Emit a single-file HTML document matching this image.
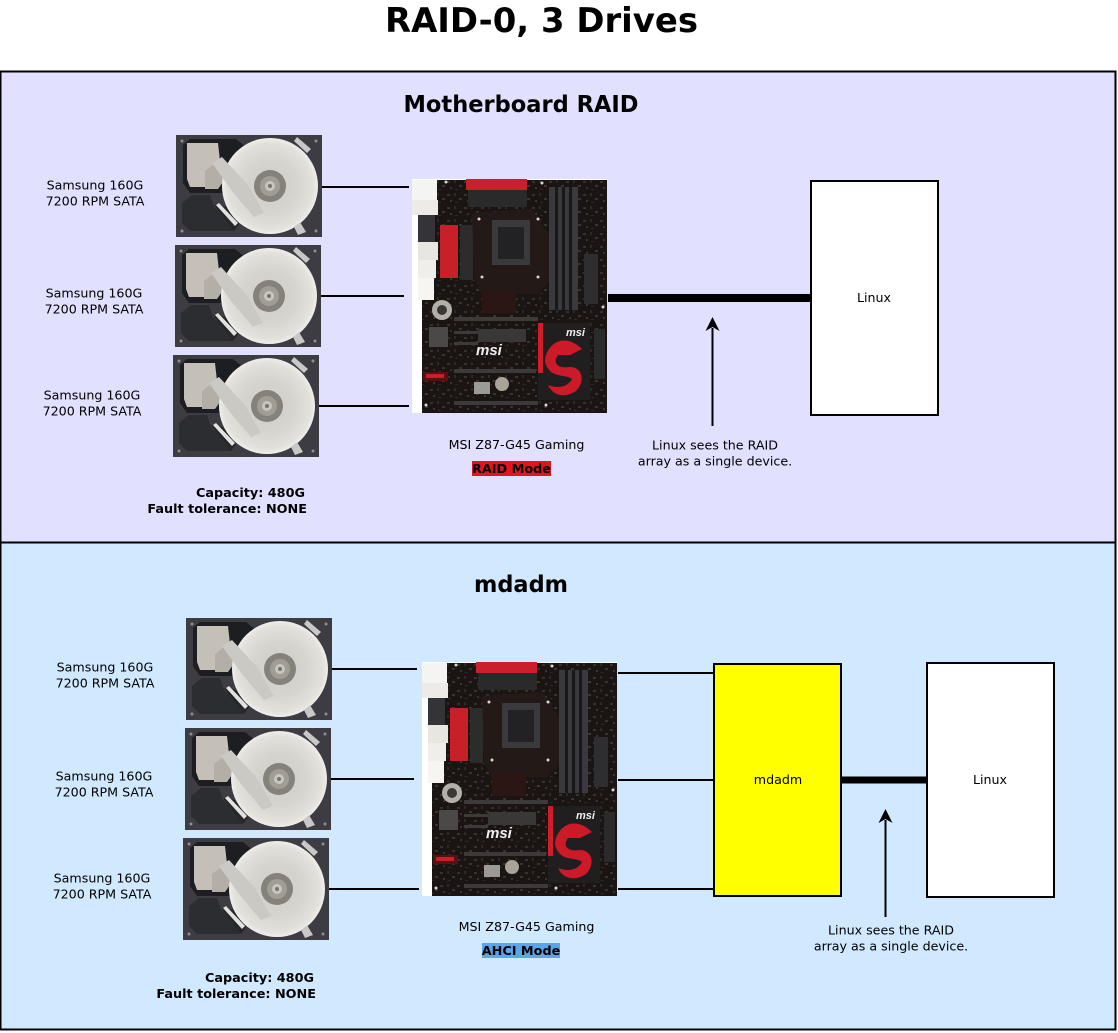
<!DOCTYPE html>
<html><head><meta charset="utf-8"><style>
html,body{margin:0;padding:0;background:#fff}
svg{display:block}
text{font-family:"DejaVu Sans",sans-serif;fill:#000}
.l{font-size:12.65px}
.b{font-size:12.8px;font-weight:bold}
.h{font-size:23px;font-weight:bold}
</style></head><body>
<svg width="1118" height="1033" viewBox="0 0 1118 1033" xmlns="http://www.w3.org/2000/svg">
<defs>
<radialGradient id="pl" cx="0.5" cy="0.5" r="0.5"><stop offset="0" stop-color="#cfcdc7"/><stop offset="0.55" stop-color="#d6d4ce"/><stop offset="0.9" stop-color="#e2e1dc"/><stop offset="1" stop-color="#efeeeb"/></radialGradient>
<pattern id="sp" width="17" height="13" patternUnits="userSpaceOnUse">
<rect x="1" y="2" width="3" height="2" fill="#38322f"/><rect x="8" y="1" width="2" height="3" fill="#2e2927"/><rect x="13" y="6" width="3" height="2" fill="#3a3431"/><rect x="4" y="8" width="2" height="2" fill="#3a3431"/><rect x="9" y="10" width="3" height="1" fill="#2e2927"/>
</pattern>
<g id="hdd">
<rect width="146" height="102" fill="#3c3c42"/>
<path d="M7 10L14 4H60L82 22 50 58H14L7 48Z" fill="#1d1e21"/>
<path d="M11 8H42L44 26 36 32 30 52H14L11 44Z" fill="#c4c0b7"/>
<path d="M29 36L42 26 52 40 42 54H29Z" fill="#b3afa6"/>
<path d="M6 68L16 60H34L38 72 56 88 58 96H14L6 88Z" fill="#2c2d31"/>
<path d="M38 70L50 72 64 88 58 96Z" fill="#26272b"/>
<circle cx="94" cy="51" r="48" fill="url(#pl)"/>
<path d="M36 28L46 22 72 50 88 78 78 82 56 56Z" fill="#cbc9c3"/>
<path d="M40 70L43 68 62 88 59 91Z" fill="#e2e2de"/>
<circle cx="94" cy="51" r="16" fill="#85827c"/>
<circle cx="94" cy="51" r="10" fill="#a09d95"/>
<circle cx="94" cy="51" r="5" fill="#c8c6c0"/>
<circle cx="94" cy="51" r="2" fill="#77746e"/>
<path d="M121 2L135 14 131 18 118 6Z" fill="#c8c8c6"/>
<path d="M124 87L130 97 122 100 118 92Z" fill="#c8c8c6"/>
<g fill="#8f8f93"><circle cx="6" cy="6" r="1.500"/><circle cx="140" cy="6" r="1.500"/><circle cx="6" cy="96" r="1.500"/><circle cx="140" cy="96" r="1.500"/></g>
</g>
<g id="mb">
<rect width="195" height="234" fill="#fff"/>
<rect x="10" y="1" width="185" height="233" fill="#1a1413"/>
<rect x="10" y="1" width="185" height="233" fill="url(#sp)"/>
<rect x="0" y="1" width="25" height="20" fill="#f4f4f2"/>
<rect x="0" y="21" width="26" height="15" fill="#ecebe7"/>
<rect x="0" y="36" width="6" height="88" fill="#fff"/>
<rect x="6" y="36" width="17" height="27" fill="#333338"/>
<rect x="6" y="63" width="20" height="18" fill="#e8e6e0"/>
<rect x="6" y="81" width="18" height="18" fill="#efeeea"/>
<rect x="6" y="99" width="16" height="22" fill="#f6f5f2"/>
<rect x="54" y="0" width="61" height="11" fill="#c9202c"/>
<rect x="56" y="11" width="59" height="17" fill="#2b2a2b"/>
<rect x="28" y="46" width="18" height="53" fill="#c82029"/>
<rect x="48" y="46" width="13" height="55" fill="#2d2c2d"/>
<path d="M60 34L120 30 140 60V100L125 115H70L62 100Z" fill="#231a18"/>
<rect x="80" y="41" width="38" height="45" fill="#3a393b"/>
<rect x="86" y="48" width="26" height="32" fill="#222123"/>
<rect x="137" y="8" width="29" height="123" fill="#3a393d"/>
<rect x="143" y="8" width="3" height="123" fill="#181719"/><rect x="150" y="8" width="3" height="123" fill="#181719"/><rect x="157" y="8" width="3" height="123" fill="#181719"/>
<rect x="172" y="75" width="14" height="50" fill="#2e2d2f"/>
<rect x="70" y="112" width="34" height="22" fill="#2c1613"/>
<circle cx="30" cy="131" r="10" fill="#b3b0a8"/><circle cx="30" cy="131" r="5" fill="#3a3835"/>
<rect x="17" y="148" width="19" height="20" fill="#4a4948"/>
<rect x="42" y="138" width="84" height="4" fill="#3d3b3a"/><rect x="42" y="152" width="24" height="3" fill="#3d3b3a"/><rect x="42" y="163" width="24" height="3" fill="#3d3b3a"/>
<rect x="66" y="150" width="48" height="13" fill="#3a3836"/>
<rect x="42" y="190" width="82" height="4" fill="#3d3b3a"/><rect x="42" y="222" width="84" height="4" fill="#3d3b3a"/>
<rect x="11" y="193" width="25" height="9" fill="#5a1013"/><rect x="14" y="195" width="18" height="4" fill="#c8202a"/>
<text x="64" y="176" style="font-family:'Liberation Sans',sans-serif;font-size:15px;font-weight:bold;font-style:italic;fill:#eee">msi</text>
<circle cx="90" cy="205" r="7" fill="#a8a49a"/>
<rect x="62" y="203" width="16" height="12" fill="#9b9a96"/>
<rect x="126" y="144" width="52" height="77" fill="#211e1f"/>
<rect x="126" y="144" width="5" height="50" fill="#d11c2a"/>
<path d="M134 176C140 160 156 156 170 170L158 176 146 176C140 184 146 190 158 188 170 188 174 202 164 212 152 220 140 216 136 206 146 210 156 208 160 200 156 196 144 198 138 192 133 186 132 182 134 176Z" fill="#cc1a28"/>
<text x="154" y="157" style="font-family:'Liberation Sans',sans-serif;font-size:11px;font-weight:bold;font-style:italic;fill:#eee">msi</text>
<rect x="182" y="150" width="11" height="50" fill="#2c2b2c"/>
<g fill="#d8d6d0"><circle cx="34" cy="3" r="1.500"/><circle cx="130" cy="4" r="1.500"/><circle cx="67" cy="40" r="1.500"/><circle cx="126" cy="40" r="1.500"/><circle cx="70" cy="98" r="1.500"/><circle cx="126" cy="98" r="1.500"/><circle cx="191" cy="128" r="1.500"/><circle cx="14" cy="226" r="1.500"/><circle cx="134" cy="226" r="1.500"/></g>
</g>
</defs>

<rect width="1118" height="1033" fill="#fff"/>
<text x="541.500" y="32" text-anchor="middle" font-size="34" font-weight="bold" textLength="313" lengthAdjust="spacingAndGlyphs">RAID-0, 3 Drives</text>

<rect x="0.5" y="71.5" width="1115" height="471" fill="#e1e1ff" stroke="#000" stroke-width="2"/>
<rect x="0.5" y="542.5" width="1115" height="487" fill="#d1e9ff" stroke="#000" stroke-width="2"/>

<text class="h" x="521" y="112" text-anchor="middle" textLength="235" lengthAdjust="spacingAndGlyphs">Motherboard RAID</text>
<text class="h" x="521" y="592" text-anchor="middle" textLength="94" lengthAdjust="spacingAndGlyphs">mdadm</text>

<g stroke="#000" stroke-width="2" fill="none">
<path d="M322 187H409M321 296H404M319 406H409"/>
<path d="M332 669H417M331 779H414M329 889H419"/>
<path d="M618 673H714M618 780H714M618 889H714"/>
<path d="M712.500 426V328M885.500 917V820"/>
</g>
<path d="M608 298H811" stroke="#000" stroke-width="8"/>
<path d="M841 780H927" stroke="#000" stroke-width="7"/>
<path d="M712.500 317L705.500 331 712.500 327 719.500 331Z" fill="#000"/>
<path d="M885.500 809L878.500 823 885.500 819 892.500 823Z" fill="#000"/>

<use href="#hdd" x="176" y="135"/>
<use href="#hdd" x="175" y="245"/>
<use href="#hdd" x="173" y="355"/>
<use href="#hdd" x="186" y="618"/>
<use href="#hdd" x="185" y="728"/>
<use href="#hdd" x="183" y="838"/>
<use href="#mb" x="412" y="179"/>
<use href="#mb" x="422" y="662"/>

<rect x="811" y="181" width="127" height="234" fill="#fff" stroke="#000" stroke-width="2"/>
<rect x="714" y="664" width="127" height="232" fill="#ff0" stroke="#000" stroke-width="2"/>
<rect x="927" y="663" width="127" height="234" fill="#fff" stroke="#000" stroke-width="2"/>

<text class="l" x="95" y="189.500" text-anchor="middle">Samsung 160G</text><text class="l" x="95" y="205.500" text-anchor="middle">7200 RPM SATA</text>
<text class="l" x="94" y="297.500" text-anchor="middle">Samsung 160G</text><text class="l" x="94" y="313.500" text-anchor="middle">7200 RPM SATA</text>
<text class="l" x="92" y="399.500" text-anchor="middle">Samsung 160G</text><text class="l" x="92" y="415.500" text-anchor="middle">7200 RPM SATA</text>
<text class="l" x="105" y="671.500" text-anchor="middle">Samsung 160G</text><text class="l" x="105" y="687.500" text-anchor="middle">7200 RPM SATA</text>
<text class="l" x="104" y="780.500" text-anchor="middle">Samsung 160G</text><text class="l" x="104" y="796.500" text-anchor="middle">7200 RPM SATA</text>
<text class="l" x="102" y="882.500" text-anchor="middle">Samsung 160G</text><text class="l" x="102" y="898.500" text-anchor="middle">7200 RPM SATA</text>
<text class="l" x="874" y="302" text-anchor="middle">Linux</text>
<text class="l" x="778" y="784" text-anchor="middle">mdadm</text>
<text class="l" x="990" y="784" text-anchor="middle">Linux</text>
<text class="l" x="516.500" y="449" text-anchor="middle">MSI Z87-G45 Gaming</text>
<text class="l" x="526.500" y="931" text-anchor="middle">MSI Z87-G45 Gaming</text>
<text class="l" x="715" y="449.500" text-anchor="middle">Linux sees the RAID</text><text class="l" x="715" y="465.500" text-anchor="middle">array as a single device.</text>
<text class="l" x="891" y="934.500" text-anchor="middle">Linux sees the RAID</text><text class="l" x="891" y="950.500" text-anchor="middle">array as a single device.</text>

<rect x="472" y="461" width="79" height="15" fill="#e3141b"/>
<text class="b" x="511.500" y="473" text-anchor="middle">RAID Mode</text>
<rect x="482" y="943" width="78" height="15" fill="#5aa6ec"/>
<text class="b" x="521" y="955" text-anchor="middle">AHCI Mode</text>

<text class="b" x="305" y="497" text-anchor="end">Capacity: 480G</text>
<text class="b" x="307" y="513" text-anchor="end">Fault tolerance: NONE</text>
<text class="b" x="314" y="982" text-anchor="end">Capacity: 480G</text>
<text class="b" x="316" y="998" text-anchor="end">Fault tolerance: NONE</text>
</svg>
</body></html>
